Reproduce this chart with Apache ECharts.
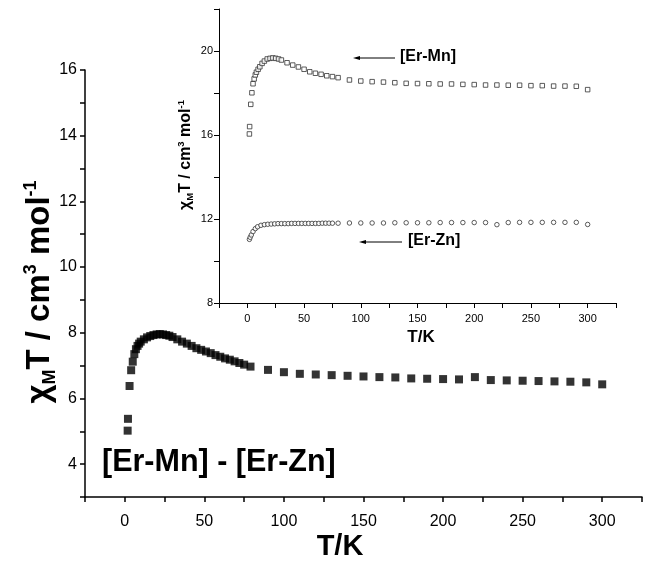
<!DOCTYPE html>
<html>
<head>
<meta charset="utf-8">
<script src="https://cdn.jsdelivr.net/npm/echarts@6/dist/echarts.min.js"></script>
<style>html,body{margin:0;padding:0;background:#fff}#c{width:645px;height:565px}</style>
</head>
<body>
<div id="c"></div>
<script>
// Main plot: [Er-Mn] - [Er-Zn]
var mainT = [1.8, 2, 3, 4, 5, 6, 7, 8, 9, 10, 12, 14, 16, 18, 20, 22, 24, 26, 28, 30, 33, 36, 39, 42, 45, 48, 51, 54, 57, 60, 63, 66, 69, 72, 75, 79,
  90, 100, 110, 120, 130, 140, 150, 160, 170, 180, 190, 200, 210, 220, 230, 240, 250, 260, 270, 280, 290, 300];
var mainChi = [5.02, 5.38, 6.38, 6.86, 7.12, 7.35, 7.50, 7.60, 7.67, 7.73, 7.80, 7.86, 7.90, 7.93, 7.95, 7.96, 7.95, 7.93, 7.91, 7.87, 7.80, 7.73, 7.67, 7.60, 7.53, 7.48, 7.43, 7.38, 7.32, 7.27, 7.22, 7.18, 7.13, 7.08, 7.03, 6.97,
  6.87, 6.80, 6.75, 6.73, 6.71, 6.69, 6.67, 6.65, 6.64, 6.61, 6.60, 6.59, 6.58, 6.65, 6.56, 6.55, 6.54, 6.53, 6.52, 6.51, 6.49, 6.43];

// Inset: [Er-Mn]
var mnT = [1.8, 2, 3, 4, 5, 6, 7, 8, 9.5, 11, 13, 15, 17.5, 20, 22.5, 25, 27.5, 30, 35, 40, 45, 50, 55, 60, 65, 70, 75, 80,
  90, 100, 110, 120, 130, 140, 150, 160, 170, 180, 190, 200, 210, 220, 230, 240, 250, 260, 270, 280, 290, 300];
var mnChi = [16.05, 16.40, 17.46, 18.01, 18.44, 18.67, 18.86, 18.99, 19.13, 19.25, 19.41, 19.52, 19.62, 19.65, 19.67, 19.65, 19.62, 19.57, 19.44, 19.33, 19.24, 19.13, 19.01, 18.94, 18.89, 18.82, 18.78, 18.73,
  18.62, 18.57, 18.54, 18.52, 18.49, 18.46, 18.45, 18.44, 18.43, 18.43, 18.41, 18.40, 18.38, 18.38, 18.37, 18.37, 18.35, 18.35, 18.33, 18.33, 18.32, 18.16];

// Inset: [Er-Zn]
var znT = [1.8, 2.5, 3.5, 5, 7, 9, 12, 15, 18, 21, 24, 27, 30, 33, 36, 39, 42, 45, 48, 51, 54, 57, 60, 63, 66, 69, 72, 75, 80,
  90, 100, 110, 120, 130, 140, 150, 160, 170, 180, 190, 200, 210, 220, 230, 240, 250, 260, 270, 280, 290, 300];
var znChi = [11.03, 11.13, 11.24, 11.40, 11.54, 11.63, 11.70, 11.73, 11.75, 11.76, 11.77, 11.78, 11.78, 11.78, 11.78, 11.79, 11.79, 11.79, 11.79, 11.79, 11.79, 11.79, 11.79, 11.79, 11.80, 11.80, 11.80, 11.80, 11.80,
  11.81, 11.81, 11.81, 11.81, 11.82, 11.82, 11.82, 11.82, 11.83, 11.83, 11.83, 11.83, 11.83, 11.73, 11.83, 11.84, 11.84, 11.84, 11.84, 11.84, 11.84, 11.74];

var FONT = "'Liberation Sans', Arial, sans-serif";

function pairs(xs, ys) { return xs.map(function (x, i) { return [x, ys[i]]; }); }

var chart = echarts.init(document.getElementById('c'), null, { renderer: 'canvas' });

function axisBase(lw) {
  return {
    axisLine: { show: true, onZero: false, lineStyle: { color: '#000', width: lw } },
    axisTick: { show: true, inside: false, length: 5, lineStyle: { color: '#000', width: lw } },
    splitLine: { show: false }
  };
}

var option = {
  animation: false,
  backgroundColor: '#fff',
  grid: [
    { left: 85, top: 70, width: 567, height: 427, containLabel: false },
    { left: 219, top: 9, width: 397, height: 294, containLabel: false }
  ],
  xAxis: [
    Object.assign(axisBase(1.5), {
      type: 'value', gridIndex: 0, min: -25, max: 325, interval: 25,
      axisLabel: { fontFamily: FONT, fontSize: 16, color: '#000', margin: 17,
        formatter: function (v) { return (v >= 0 && v <= 300 && v % 50 === 0) ? String(v) : ''; } }
    }),
    Object.assign(axisBase(1), {
      type: 'value', gridIndex: 1, min: -25, max: 325, interval: 25,
      axisLabel: { fontFamily: FONT, fontSize: 11, color: '#000', margin: 10,
        formatter: function (v) { return (v >= 0 && v <= 300 && v % 50 === 0) ? String(v) : ''; } }
    })
  ],
  yAxis: [
    Object.assign(axisBase(1.5), {
      type: 'value', gridIndex: 0, min: 3, max: 16, interval: 1,
      axisLabel: { fontFamily: FONT, fontSize: 16, color: '#000', margin: 8,
        formatter: function (v) { return (v % 2 === 0) ? String(v) : ''; } }
    }),
    Object.assign(axisBase(1), {
      type: 'value', gridIndex: 1, min: 8, max: 22, interval: 2,
      axisLabel: { fontFamily: FONT, fontSize: 11, color: '#000', margin: 6,
        formatter: function (v) { return (v % 4 === 0 && v <= 20) ? String(v) : ''; } }
    })
  ],
  series: [
    { type: 'scatter', xAxisIndex: 0, yAxisIndex: 0, data: pairs(mainT, mainChi),
      symbol: 'rect', symbolSize: 8, itemStyle: { color: '#000' } },
    { type: 'scatter', xAxisIndex: 1, yAxisIndex: 1, data: pairs(mnT, mnChi),
      symbol: 'rect', symbolSize: 4.5, itemStyle: { color: '#fff', borderColor: '#333', borderWidth: 1 } },
    { type: 'scatter', xAxisIndex: 1, yAxisIndex: 1, data: pairs(znT, znChi),
      symbol: 'circle', symbolSize: 4.5, itemStyle: { color: '#fff', borderColor: '#333', borderWidth: 1 } }
  ],
  graphic: [
    // main y title
    { type: 'text', x: 40, y: 292, rotation: Math.PI / 2,
      style: { text: '{b|χ}{s|M}{b|T / cm}{p|3}{b| mol}{p|-1}', align: 'center', verticalAlign: 'middle',
        rich: {
          b: { fontFamily: FONT, fontWeight: 'bold', fontSize: 33, fill: '#000', lineHeight: 42, verticalAlign: 'middle' },
          s: { fontFamily: FONT, fontWeight: 'bold', fontSize: 18, fill: '#000', lineHeight: 42, verticalAlign: 'bottom', padding: [0, 0, 2, 0] },
          p: { fontFamily: FONT, fontWeight: 'bold', fontSize: 18, fill: '#000', lineHeight: 42, verticalAlign: 'top', padding: [3, 0, 0, 0] }
        } } },
    // main x title
    { type: 'text', x: 340, y: 547,
      style: { text: 'T/K', fontFamily: FONT, fontWeight: 'bold', fontSize: 29, fill: '#000', align: 'center', verticalAlign: 'middle' } },
    // main annotation
    { type: 'text', x: 102, y: 463,
      style: { text: '[Er-Mn] - [Er-Zn]', fontFamily: FONT, fontWeight: 'bold', fontSize: 30.5, fill: '#000', align: 'left', verticalAlign: 'middle' } },
    // inset y title
    { type: 'text', x: 186, y: 155, rotation: Math.PI / 2,
      style: { text: '{b|χ}{s|M}{b|T / cm}{p|3}{b| mol}{p|-1}', align: 'center', verticalAlign: 'middle',
        rich: {
          b: { fontFamily: FONT, fontWeight: 'bold', fontSize: 16, fill: '#000', lineHeight: 21, verticalAlign: 'middle' },
          s: { fontFamily: FONT, fontWeight: 'bold', fontSize: 9.5, fill: '#000', lineHeight: 21, verticalAlign: 'bottom', padding: [0, 0, 1, 0] },
          p: { fontFamily: FONT, fontWeight: 'bold', fontSize: 9.5, fill: '#000', lineHeight: 21, verticalAlign: 'top', padding: [1, 0, 0, 0] }
        } } },
    // inset x title
    { type: 'text', x: 421, y: 337,
      style: { text: 'T/K', fontFamily: FONT, fontWeight: 'bold', fontSize: 17, fill: '#000', align: 'center', verticalAlign: 'middle' } },
    // inset labels with arrows
    { type: 'text', x: 400, y: 57,
      style: { text: '[Er-Mn]', fontFamily: FONT, fontWeight: 'bold', fontSize: 16, fill: '#000', align: 'left', verticalAlign: 'middle' } },
    { type: 'line', shape: { x1: 357, y1: 58, x2: 395, y2: 58 }, style: { stroke: '#000', lineWidth: 1 } },
    { type: 'polygon', shape: { points: [[353, 58], [360, 56], [360, 60]] }, style: { fill: '#000' } },
    { type: 'text', x: 408, y: 241,
      style: { text: '[Er-Zn]', fontFamily: FONT, fontWeight: 'bold', fontSize: 16, fill: '#000', align: 'left', verticalAlign: 'middle' } },
    { type: 'line', shape: { x1: 363, y1: 242, x2: 402, y2: 242 }, style: { stroke: '#000', lineWidth: 1 } },
    { type: 'polygon', shape: { points: [[359, 242], [366, 240], [366, 244]] }, style: { fill: '#000' } }
  ]
};
chart.setOption(option);
</script>
</body>
</html>
